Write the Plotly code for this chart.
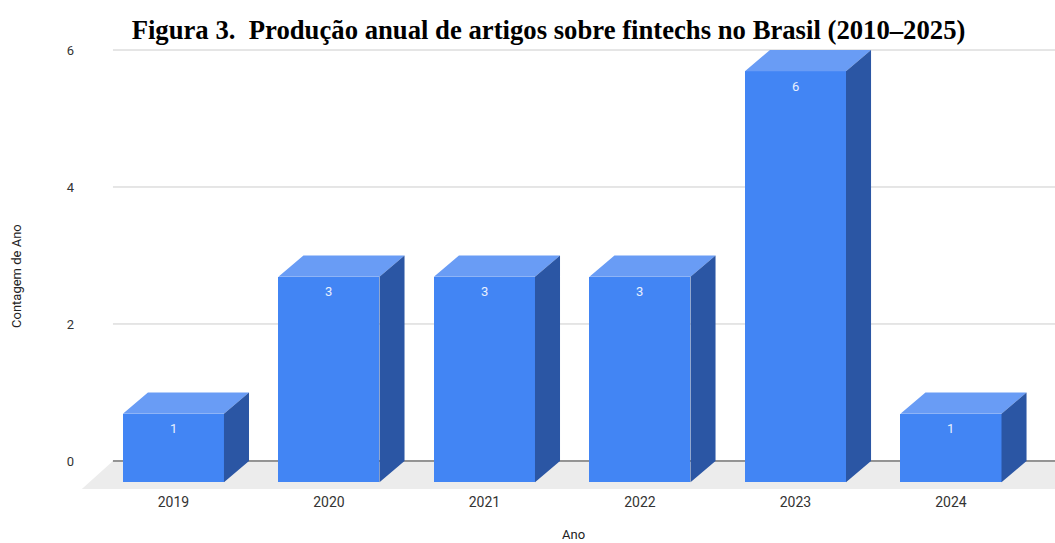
import plotly.graph_objects as go

# ---- data ----
years = ["2019", "2020", "2021", "2022", "2023", "2024"]
counts = [1, 3, 3, 3, 6, 1]
y_ticks = [0, 2, 4, 6]

# ---- 3D styling constants (in axis units) ----
W = 0.65      # front face width
DX = 0.161    # depth offset x
DY = 0.31     # depth offset y
FLOOR_DY = 0.41
FLOOR_DX = 0.20
FLOOR_BACK_LEFT = -0.389
FLOOR_FRONT_RIGHT_PAD = 0.574
X_RANGE = [-0.633, 5.669]
Y_RANGE = [-0.453, 6.146]

C_FRONT = "#4285f4"
C_TOP = "#699cf5"
C_SIDE = "#2b56a4"

n = len(years)
xs = list(range(n))

fig = go.Figure()

# front faces
fig.add_trace(go.Bar(x=xs, y=counts, base=[-DY] * n, width=W,
                     marker=dict(color=C_FRONT, line=dict(width=0)),
                     hoverinfo="skip", showlegend=False))

# top & side faces computed from values
tx, ty, sx, sy = [], [], [], []
for i, v in zip(xs, counts):
    l, r = i - W / 2, i + W / 2
    top = v - DY
    tx += [l, r, r + DX, l + DX, l, None]
    ty += [top, top, top + DY, top + DY, top, None]
    sx += [r, r + DX, r + DX, r, r, None]
    sy += [-DY, 0, top + DY, top, -DY, None]

fig.add_trace(go.Scatter(x=tx, y=ty, mode="lines", fill="toself", fillcolor=C_TOP,
                         line=dict(width=0), hoverinfo="skip", showlegend=False))
fig.add_trace(go.Scatter(x=sx, y=sy, mode="lines", fill="toself", fillcolor=C_SIDE,
                         line=dict(width=0), hoverinfo="skip", showlegend=False))

# floor, gridlines, zero line (decoration below the bars)
x_far = X_RANGE[1] + 1
front_right = (n - 1) + FLOOR_FRONT_RIGHT_PAD
floor_path = (f"M {FLOOR_BACK_LEFT},0 L {x_far},0 L {front_right + FLOOR_DX},-{FLOOR_DY} "
              f"L {front_right},-{FLOOR_DY} L {FLOOR_BACK_LEFT - FLOOR_DX},-{FLOOR_DY} Z")
shapes = [dict(type="path", xref="x", yref="y", path=floor_path,
               fillcolor="#ececec", line=dict(width=0), layer="below")]
shapes.append(dict(type="path", xref="x", yref="y",
                   path=f"M {front_right},-{FLOOR_DY} L {x_far},-{FLOOR_DY} L {x_far},0 Z",
                   fillcolor="#ececec", line=dict(width=0), layer="below"))
for t in y_ticks:
    shapes.append(dict(type="line", xref="x", yref="y", x0=FLOOR_BACK_LEFT, x1=X_RANGE[1],
                       y0=t, y1=t,
                       line=dict(color="#333333" if t == 0 else "#cccccc", width=1),
                       layer="below"))

annotations = []
for i, v in zip(xs, counts):
    annotations.append(dict(x=i, y=v - DY, xref="x", yref="y", text=str(v),
                            showarrow=False, yanchor="middle", yshift=-15,
                            font=dict(family="Roboto", size=13, color="#e8f0fe")))

annotations.append(dict(x=(573 - 75) / 980, y=(492 - 534) / 452, xref="paper", yref="paper",
                        text="Ano", showarrow=False, xanchor="center", yanchor="middle",
                        font=dict(family="Roboto", size=13, color="#222222")))
annotations.append(dict(x=(16 - 75) / 980, y=(492 - 276) / 452, xref="paper", yref="paper",
                        text="Contagem de Ano", showarrow=False, textangle=-90,
                        xanchor="center", yanchor="middle",
                        font=dict(family="Roboto", size=13, color="#222222")))

fig.update_layout(
    width=1055, height=543,
    margin=dict(l=75, r=0, t=40, b=51),
    paper_bgcolor="white", plot_bgcolor="white",
    title=dict(text="<b>Figura 3.  Produção anual de artigos sobre fintechs no Brasil (2010–2025)</b>",
               x=548.5 / 1055, xanchor="center", xref="container",
               y=1 - 30 / 543, yanchor="middle", yref="container",
               font=dict(family="Liberation Serif", size=26.7, color="black")),
    xaxis=dict(range=X_RANGE, tickvals=xs, ticktext=years, showgrid=False, zeroline=False,
               showline=False, ticks="", tickfont=dict(family="Roboto", size=14, color="#333333"),
               fixedrange=True),
    yaxis=dict(range=Y_RANGE, tickvals=y_ticks, showgrid=False, zeroline=False,
               showline=False, ticks="", tickfont=dict(family="Roboto", size=13, color="#333333"),
               fixedrange=True),
    shapes=shapes,
    annotations=annotations,
    bargap=0,
)

fig.write_html("out.html")
